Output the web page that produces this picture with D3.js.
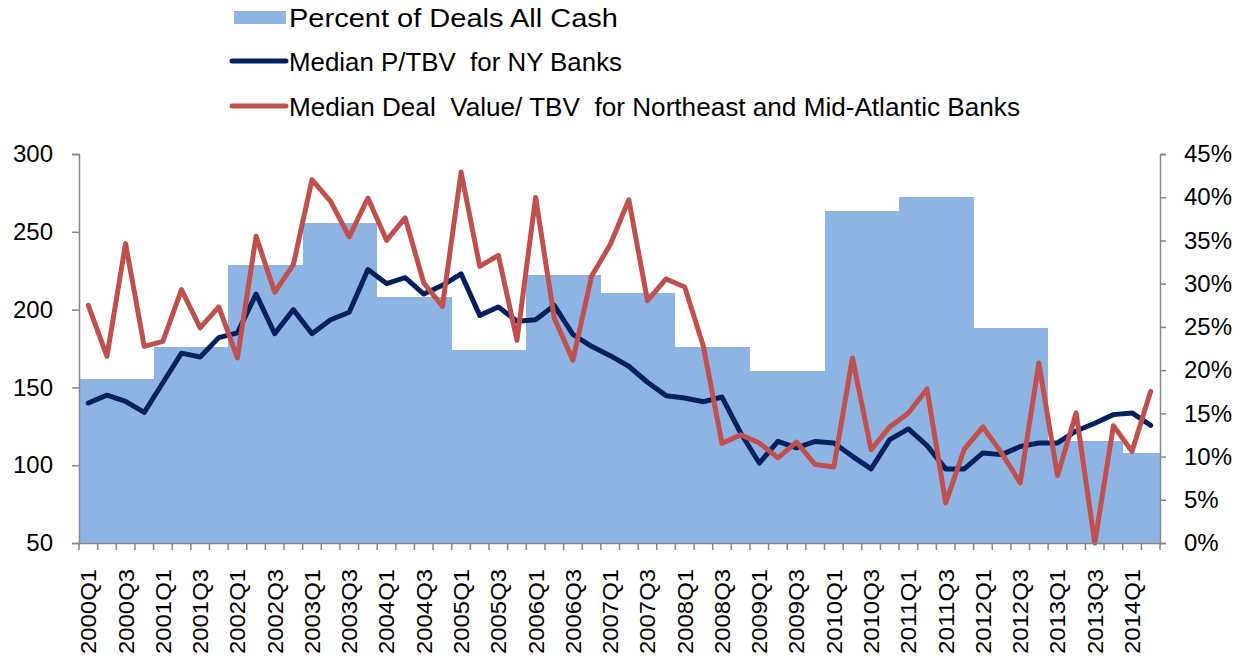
<!DOCTYPE html>
<html lang="en">
<head>
    <meta charset="UTF-8">
    <title>Deals chart</title>
    <style>
        body { margin: 0; background: #fff; }
        text { font-family: "Liberation Sans", Arial, sans-serif; fill: #000; }
    </style>
</head>
<body>
<script src="https://d3js.org/d3.v7.min.js"></script>
<script>
    // data
    var years = [2000, 2001, 2002, 2003, 2004, 2005, 2006, 2007, 2008, 2009, 2010, 2011, 2012, 2013, 2014];
    var quarterNames = ['Q1', 'Q2', 'Q3', 'Q4'];
    var lastQuarter = 'Q2'; // data stops at 2014Q2

    var cashPct = [0.190, 0.227, 0.322, 0.370, 0.285, 0.223, 0.310, 0.289, 0.227, 0.199,
                   0.384, 0.400, 0.249, 0.118, 0.104];

    var nyPtbv = [140, 145, 141, 134, 153, 172, 169.5, 182, 185, 210, 184.5, 200,
                  184.5, 193.5, 198.3, 225.7, 216.7, 220.5, 210, 215.6, 223, 196.3, 201.7, 192.5,
                  193.5, 202.7, 184, 176.4, 170.4, 163.6, 153.3, 144.7, 143.2, 140.8, 143.8, 120.7,
                  101.4, 115.3, 111.1, 115.3, 114.3, 105.7, 97.6, 116.4, 123.3, 112.6, 97.6, 97.6,
                  107.9, 106.8, 112, 114.3, 114.3, 122, 127, 132.5, 133.6, 125.6];

    var neDealTbv = [202.7, 170, 242.4, 176.4, 179.6, 212.8, 188.2, 201.7, 168.9, 247.1, 211.1, 228.9,
                     283.5, 269.6, 246.7, 271.7, 244.5, 258.9, 217.1, 202.1, 288.4, 227.8, 234.9, 180.3,
                     272.1, 194.6, 167.4, 221.4, 241.7, 270.6, 205.7, 219.7, 214.5, 176.4, 113.9, 119.6,
                     114.3, 104.7, 114.8, 100.4, 98.9, 168.9, 110, 124.6, 133.6, 149, 75.7, 110.4,
                     124.6, 107.9, 88.6, 165.7, 93.3, 133.6, 50, 125.4, 108.9, 147.5];

    var leftTicks = [50, 100, 150, 200, 250, 300];
    var rightTicks = [0, 0.05, 0.10, 0.15, 0.20, 0.25, 0.30, 0.35, 0.40, 0.45];

    var legendLabels = ['Percent of Deals All Cash',
                        'Median P/TBV  for NY Banks',
                        'Median Deal  Value/ TBV  for Northeast and Mid-Atlantic Banks'];

    var quarters = [];
    years.forEach(function(y) {
        quarterNames.forEach(function(q) {
            if (y === 2014 && quarterNames.indexOf(q) > quarterNames.indexOf(lastQuarter)) return;
            quarters.push(y + q);
        });
    });

    var width = 1240, height = 660,
        plotLeft = 79, plotRight = 1160, plotTop = 154, plotBottom = 543;

    var svg = d3.select('body').append('svg')
                .attr('width', width)
                .attr('height', height);

    var x = d3.scaleBand().domain(quarters).range([plotLeft, plotRight]).padding(0);
    var yL = d3.scaleLinear().domain([50, 300]).range([plotBottom, plotTop]);
    var yR = d3.scaleLinear().domain([0, 0.45]).range([plotBottom, plotTop]);

    // yearly cash share as step blocks
    var bars = years.map(function(y, i) {
        var qs = quarters.filter(function(q) { return q.indexOf(y + 'Q') === 0; });
        return { year: y, first: qs[0], last: qs[qs.length - 1], v: cashPct[i] };
    });

    svg.append('g').selectAll('rect')
       .data(bars)
       .enter().append('rect')
       .attr('x', function(d) { return x(d.first); })
       .attr('width', function(d) { return x(d.last) + x.bandwidth() - x(d.first); })
       .attr('y', function(d) { return yR(d.v); })
       .attr('height', function(d) { return plotBottom - yR(d.v); })
       .attr('fill', '#8EB4E3')
       .attr('shape-rendering', 'crispEdges');

    function drawLine(values, color) {
        var line = d3.line()
            .x(function(d, i) { return x(quarters[i]) + x.bandwidth() / 2; })
            .y(function(d) { return yL(d); });
        svg.append('path')
           .datum(values)
           .attr('d', line)
           .attr('fill', 'none')
           .attr('stroke', color)
           .attr('stroke-width', 5)
           .attr('stroke-linejoin', 'round')
           .attr('stroke-linecap', 'round');
    }
    drawLine(nyPtbv, '#002060');
    drawLine(neDealTbv, '#C0504D');

    // axes
    var axisColor = '#868686';

    var gl = svg.append('g')
        .attr('transform', 'translate(' + plotLeft + ',0)')
        .call(d3.axisLeft(yL).tickValues(leftTicks).tickSize(7).tickPadding(19));

    var gr = svg.append('g')
        .attr('transform', 'translate(' + plotRight + ',0)')
        .call(d3.axisRight(yR).tickValues(rightTicks).tickSize(6).tickPadding(18)
              .tickFormat(d3.format('.0%')));

    [gl, gr].forEach(function(g) {
        g.select('.domain').attr('stroke', axisColor).attr('stroke-width', 1.5);
        g.selectAll('.tick line').attr('stroke', axisColor).attr('stroke-width', 1.5);
        g.selectAll('.tick text').attr('font-size', 24)
         .attr('font-family', '"Liberation Sans", Arial, sans-serif').attr('fill', '#000');
    });

    var gx = svg.append('g')
        .attr('transform', 'translate(0,' + plotBottom + ')')
        .call(d3.axisBottom(x).tickSize(0).tickFormat(''));
    gx.select('.domain').attr('stroke', axisColor).attr('stroke-width', 1.5);
    gx.selectAll('.tick').remove();

    // quarter boundary ticks
    gx.selectAll('line.qtick')
      .data(quarters.concat(['end']))
      .enter().append('line')
      .attr('class', 'qtick')
      .attr('x1', function(d) { return d === 'end' ? plotRight : x(d); })
      .attr('x2', function(d) { return d === 'end' ? plotRight : x(d); })
      .attr('y1', 0)
      .attr('y2', 7)
      .attr('stroke', axisColor)
      .attr('stroke-width', 1.5);

    gx.selectAll('text.qlabel')
      .data(quarters.filter(function(q, i) { return i % 2 === 0; }))
      .enter().append('text')
      .attr('class', 'qlabel')
      .attr('transform', function(d) {
          return 'translate(' + (x(d) + x.bandwidth() / 2) + ',26) rotate(-90)';
      })
      .attr('dy', '0.36em')
      .attr('text-anchor', 'end')
      .attr('font-size', 22)
      .attr('textLength', 85)
      .attr('lengthAdjust', 'spacingAndGlyphs')
      .text(function(d) { return d; });

    // legend
    var legendY = [18, 62, 107];
    var legendW = [329, 333, 731];
    var lg = svg.append('g');
    lg.append('rect')
      .attr('x', 234).attr('y', 11).attr('width', 52).attr('height', 13)
      .attr('fill', '#8EB4E3');
    lg.append('line')
      .attr('x1', 232).attr('x2', 286).attr('y1', legendY[1] - 1).attr('y2', legendY[1] - 1)
      .attr('stroke', '#002060').attr('stroke-width', 5).attr('stroke-linecap', 'round');
    lg.append('line')
      .attr('x1', 232).attr('x2', 286).attr('y1', legendY[2] - 1).attr('y2', legendY[2] - 1)
      .attr('stroke', '#C0504D').attr('stroke-width', 5).attr('stroke-linecap', 'round');
    lg.selectAll('text')
      .data(legendLabels)
      .enter().append('text')
      .attr('x', 289)
      .attr('y', function(d, i) { return legendY[i]; })
      .attr('dy', '0.36em')
      .attr('font-size', 25)
      .attr('textLength', function(d, i) { return legendW[i]; })
      .attr('lengthAdjust', 'spacingAndGlyphs')
      .style('white-space', 'pre')
      .text(function(d) { return d; });
</script>
</body>
</html>
